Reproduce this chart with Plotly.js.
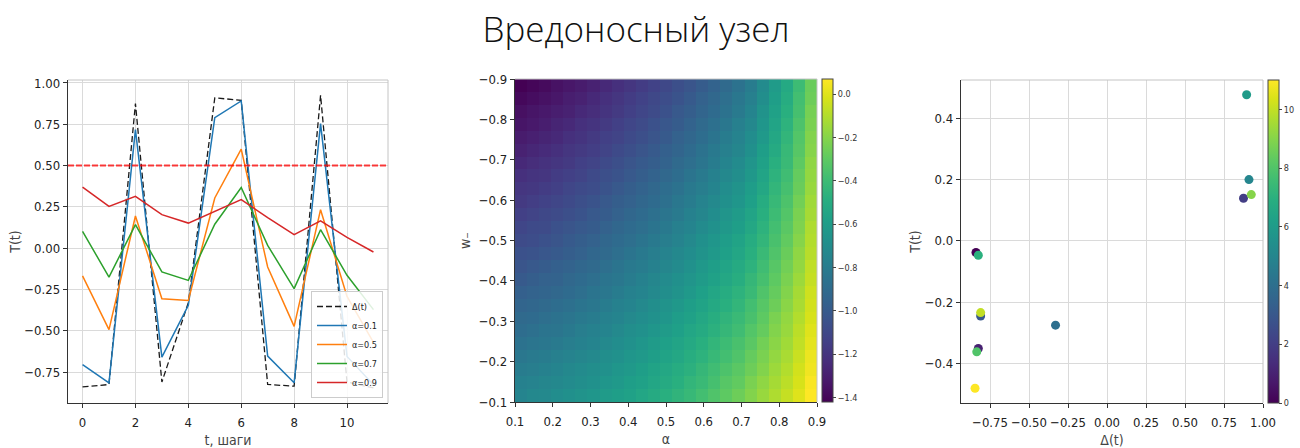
<!DOCTYPE html>
<html><head><meta charset="utf-8">
<script src="https://cdn.plot.ly/plotly-3.0.1.min.js"></script>
<style>html,body{margin:0;padding:0;background:#fff;} #chart{width:1300px;height:448px;}</style>
</head><body><div id="chart"></div>
<script>
// ---------- data ----------
const steps = [0, 1, 2, 3, 4, 5, 6, 7, 8, 9, 10, 11];
const delta = [-0.84, -0.825, 0.875, -0.81, -0.33, 0.91, 0.895, -0.825, -0.835, 0.925, -0.81, -0.846];
const trustA01 = [-0.705, -0.815, 0.718, -0.659, -0.346, 0.79, 0.891, -0.653, -0.815, 0.754, -0.655, -0.827];
const trustA05 = [-0.168, -0.493, 0.195, -0.306, -0.316, 0.304, 0.60, -0.114, -0.473, 0.233, -0.292, -0.57];
const trustA07 = [0.102, -0.175, 0.143, -0.144, -0.195, 0.145, 0.367, 0.017, -0.245, 0.112, -0.164, -0.372];
const trustA09 = [0.37, 0.253, 0.314, 0.203, 0.152, 0.225, 0.294, 0.185, 0.082, 0.165, 0.065, -0.023];
const lineLabels = ['α=0.1', 'α=0.5', 'α=0.7', 'α=0.9'];
const threshold = 0.5;
const scatterTrust = [-0.038, -0.351, 0.139, -0.245, -0.275, 0.20, 0.477, -0.047, -0.362, 0.151, -0.234, -0.481];

const alphaGrid = [0.116, 0.148, 0.18, 0.212, 0.244, 0.276, 0.308, 0.34, 0.372, 0.404, 0.436, 0.468, 0.5,
                   0.532, 0.564, 0.596, 0.628, 0.66, 0.692, 0.724, 0.756, 0.788, 0.82, 0.852, 0.884];
const wGrid = [-0.884, -0.852, -0.82, -0.788, -0.756, -0.724, -0.692, -0.66, -0.628, -0.596, -0.564, -0.532, -0.5,
               -0.468, -0.436, -0.404, -0.372, -0.34, -0.308, -0.276, -0.244, -0.212, -0.18, -0.148, -0.116];
// one row per alpha column (top w = -0.9 first)
const heatByAlpha = [
[-1.42,-1.39,-1.36,-1.34,-1.31,-1.28,-1.25,-1.22,-1.19,-1.17,-1.14,-1.11,-1.08,-1.05,-1.03,-1.00,-0.97,-0.94,-0.91,-0.89,-0.86,-0.83,-0.80,-0.77,-0.75],
[-1.40,-1.37,-1.34,-1.32,-1.29,-1.26,-1.23,-1.20,-1.18,-1.15,-1.12,-1.09,-1.07,-1.04,-1.01,-0.98,-0.95,-0.93,-0.90,-0.87,-0.84,-0.81,-0.79,-0.76,-0.73],
[-1.38,-1.35,-1.32,-1.30,-1.27,-1.24,-1.21,-1.19,-1.16,-1.13,-1.10,-1.08,-1.05,-1.02,-0.99,-0.96,-0.94,-0.91,-0.88,-0.85,-0.83,-0.80,-0.77,-0.74,-0.72],
[-1.35,-1.33,-1.30,-1.27,-1.25,-1.22,-1.19,-1.16,-1.14,-1.11,-1.08,-1.05,-1.03,-1.00,-0.97,-0.95,-0.92,-0.89,-0.86,-0.84,-0.81,-0.78,-0.75,-0.73,-0.70],
[-1.33,-1.30,-1.28,-1.25,-1.22,-1.19,-1.17,-1.14,-1.11,-1.09,-1.06,-1.03,-1.00,-0.98,-0.95,-0.92,-0.90,-0.87,-0.84,-0.82,-0.79,-0.76,-0.73,-0.71,-0.68],
[-1.31,-1.28,-1.25,-1.22,-1.20,-1.17,-1.14,-1.12,-1.09,-1.06,-1.04,-1.01,-0.98,-0.96,-0.93,-0.90,-0.88,-0.85,-0.82,-0.79,-0.77,-0.74,-0.71,-0.69,-0.66],
[-1.28,-1.25,-1.23,-1.20,-1.17,-1.15,-1.12,-1.09,-1.07,-1.04,-1.01,-0.99,-0.96,-0.93,-0.91,-0.88,-0.85,-0.83,-0.80,-0.77,-0.75,-0.72,-0.69,-0.67,-0.64],
[-1.25,-1.22,-1.20,-1.17,-1.14,-1.12,-1.09,-1.06,-1.04,-1.01,-0.99,-0.96,-0.93,-0.91,-0.88,-0.85,-0.83,-0.80,-0.77,-0.75,-0.72,-0.69,-0.67,-0.64,-0.61],
[-1.22,-1.19,-1.17,-1.14,-1.12,-1.09,-1.06,-1.04,-1.01,-0.98,-0.96,-0.93,-0.90,-0.88,-0.85,-0.83,-0.80,-0.77,-0.75,-0.72,-0.70,-0.67,-0.64,-0.62,-0.59],
[-1.19,-1.16,-1.14,-1.11,-1.09,-1.06,-1.03,-1.01,-0.98,-0.96,-0.93,-0.90,-0.88,-0.85,-0.82,-0.80,-0.77,-0.75,-0.72,-0.69,-0.67,-0.64,-0.62,-0.59,-0.57],
[-1.16,-1.13,-1.11,-1.08,-1.06,-1.03,-1.00,-0.98,-0.95,-0.93,-0.90,-0.88,-0.85,-0.82,-0.80,-0.77,-0.75,-0.72,-0.70,-0.67,-0.64,-0.62,-0.59,-0.57,-0.54],
[-1.13,-1.10,-1.08,-1.05,-1.03,-1.00,-0.98,-0.95,-0.92,-0.90,-0.87,-0.85,-0.82,-0.79,-0.77,-0.74,-0.72,-0.69,-0.67,-0.64,-0.61,-0.59,-0.56,-0.54,-0.51],
[-1.10,-1.07,-1.05,-1.02,-1.00,-0.97,-0.95,-0.92,-0.89,-0.87,-0.84,-0.82,-0.79,-0.76,-0.74,-0.71,-0.69,-0.66,-0.64,-0.61,-0.58,-0.56,-0.53,-0.51,-0.48],
[-1.06,-1.04,-1.01,-0.99,-0.96,-0.94,-0.91,-0.89,-0.86,-0.83,-0.81,-0.78,-0.76,-0.73,-0.71,-0.68,-0.66,-0.63,-0.60,-0.58,-0.55,-0.53,-0.50,-0.48,-0.45],
[-1.03,-1.00,-0.98,-0.95,-0.93,-0.90,-0.88,-0.85,-0.82,-0.80,-0.77,-0.75,-0.72,-0.70,-0.67,-0.65,-0.62,-0.59,-0.57,-0.54,-0.52,-0.49,-0.47,-0.44,-0.42],
[-0.99,-0.96,-0.94,-0.91,-0.89,-0.86,-0.84,-0.81,-0.79,-0.76,-0.74,-0.71,-0.68,-0.66,-0.63,-0.61,-0.58,-0.56,-0.53,-0.51,-0.48,-0.46,-0.43,-0.41,-0.38],
[-0.95,-0.92,-0.90,-0.87,-0.85,-0.82,-0.80,-0.77,-0.75,-0.72,-0.70,-0.67,-0.64,-0.62,-0.59,-0.57,-0.54,-0.52,-0.49,-0.47,-0.44,-0.42,-0.39,-0.37,-0.34],
[-0.91,-0.88,-0.86,-0.83,-0.80,-0.78,-0.75,-0.73,-0.70,-0.68,-0.65,-0.63,-0.60,-0.58,-0.55,-0.53,-0.50,-0.48,-0.45,-0.43,-0.40,-0.38,-0.35,-0.32,-0.30],
[-0.86,-0.83,-0.81,-0.78,-0.76,-0.74,-0.71,-0.69,-0.66,-0.64,-0.61,-0.59,-0.56,-0.54,-0.51,-0.49,-0.46,-0.44,-0.41,-0.39,-0.36,-0.34,-0.31,-0.29,-0.26],
[-0.80,-0.78,-0.75,-0.73,-0.70,-0.68,-0.65,-0.63,-0.60,-0.58,-0.55,-0.53,-0.50,-0.48,-0.46,-0.43,-0.41,-0.38,-0.36,-0.33,-0.31,-0.28,-0.26,-0.23,-0.21],
[-0.71,-0.69,-0.66,-0.64,-0.62,-0.59,-0.57,-0.55,-0.53,-0.50,-0.48,-0.46,-0.44,-0.41,-0.39,-0.37,-0.34,-0.32,-0.30,-0.28,-0.25,-0.23,-0.21,-0.18,-0.16],
[-0.61,-0.59,-0.57,-0.55,-0.53,-0.51,-0.48,-0.46,-0.44,-0.42,-0.40,-0.38,-0.36,-0.34,-0.32,-0.30,-0.28,-0.26,-0.23,-0.21,-0.19,-0.17,-0.15,-0.13,-0.11],
[-0.52,-0.50,-0.48,-0.46,-0.44,-0.42,-0.41,-0.39,-0.37,-0.35,-0.33,-0.31,-0.29,-0.27,-0.25,-0.23,-0.21,-0.19,-0.17,-0.16,-0.14,-0.12,-0.10,-0.08,-0.06],
[-0.40,-0.38,-0.37,-0.35,-0.33,-0.32,-0.30,-0.28,-0.27,-0.25,-0.23,-0.22,-0.20,-0.18,-0.17,-0.15,-0.13,-0.12,-0.10,-0.08,-0.07,-0.05,-0.03,-0.02,0.00],
[-0.27,-0.26,-0.24,-0.23,-0.21,-0.20,-0.18,-0.17,-0.16,-0.14,-0.13,-0.11,-0.10,-0.09,-0.07,-0.06,-0.04,-0.03,-0.02,0.00,0.01,0.03,0.04,0.06,0.07]
];

// ---------- styling ----------
const FONT = '"DejaVu Sans Condensed", "Liberation Sans Narrow", "Liberation Sans", sans-serif';
const W = 1300, H = 448;
const px = (a, b) => [a / W, b / W];
const py = (top, bottom) => [1 - bottom / H, 1 - top / H];

const axisBase = {
  showgrid: true, gridcolor: '#dadada', gridwidth: 1, zeroline: false,
  showline: true, linecolor: '#333', linewidth: 1.3, mirror: false,
  ticks: 'outside', ticklen: 4, tickwidth: 1, tickcolor: '#333',
  tickfont: {family: FONT, size: 13, color: '#222'},
  title: {font: {family: FONT, size: 14, color: '#444'}}
};
function ax(extra) {
  const o = JSON.parse(JSON.stringify(axisBase));
  Object.keys(extra).forEach(k => {
    if (k === 'title') o.title = Object.assign(o.title, extra.title);
    else o[k] = extra[k];
  });
  return o;
}

const traces = [
  {x: steps, y: delta, name: 'Δ(t)', mode: 'lines', xaxis: 'x', yaxis: 'y',
   line: {color: '#1a1a1a', width: 1.3, dash: '6px,3px'}},
  {x: steps, y: trustA01, name: lineLabels[0], mode: 'lines', xaxis: 'x', yaxis: 'y', line: {color: '#1f77b4', width: 1.5}},
  {x: steps, y: trustA05, name: lineLabels[1], mode: 'lines', xaxis: 'x', yaxis: 'y', line: {color: '#ff7f0e', width: 1.5}},
  {x: steps, y: trustA07, name: lineLabels[2], mode: 'lines', xaxis: 'x', yaxis: 'y', line: {color: '#2ca02c', width: 1.5}},
  {x: steps, y: trustA09, name: lineLabels[3], mode: 'lines', xaxis: 'x', yaxis: 'y', line: {color: '#d62728', width: 1.5}},
  {type: 'heatmap', x: alphaGrid, y: wGrid, z: heatByAlpha, transpose: true,
   colorscale: 'Viridis', xaxis: 'x2', yaxis: 'y2', showlegend: false, showscale: true,
   colorbar: {x: 822 / W, xanchor: 'left', xpad: 0, y: 1 - 402 / H, yanchor: 'bottom', ypad: 0,
              len: 323 / H, lenmode: 'fraction', thickness: 11, thicknessmode: 'pixels',
              outlinewidth: 1, outlinecolor: '#444', ticks: 'outside', ticklen: 3, tickcolor: '#444',
              dtick: 0.2, tick0: 0, tickformat: '.1f', tickfont: {family: FONT, size: 9, color: '#333'}}},
  {x: delta, y: scatterTrust, mode: 'markers', xaxis: 'x3', yaxis: 'y3', showlegend: false,
   marker: {size: 9, color: steps, colorscale: 'Viridis', cmin: 0, cmax: 11, line: {width: 0},
            colorbar: {x: 1268 / W, xanchor: 'left', xpad: 0, y: 1 - 403 / H, yanchor: 'bottom', ypad: 0,
                       len: 323 / H, lenmode: 'fraction', thickness: 11, thicknessmode: 'pixels',
                       outlinewidth: 1, outlinecolor: '#444', ticks: 'outside', ticklen: 3, tickcolor: '#444',
                       dtick: 2, tick0: 0, tickfont: {family: FONT, size: 9, color: '#333'}}}}
];

function frame(xr, yr) {
  return [
    {type: 'line', xref: xr + ' domain', yref: yr + ' domain', x0: 0, x1: 1, y0: 1, y1: 1, line: {color: '#c4c4c4', width: 1}},
    {type: 'line', xref: xr + ' domain', yref: yr + ' domain', x0: 1, x1: 1, y0: 0, y1: 1, line: {color: '#c4c4c4', width: 1}}
  ];
}

const layout = {
  width: W, height: H, margin: {l: 0, r: 0, t: 0, b: 0},
  paper_bgcolor: '#fff', plot_bgcolor: '#fff',
  font: {family: FONT, color: '#222'},
  title: {text: 'Вредоносный узел', x: 636 / W, xanchor: 'center', xref: 'paper',
          y: 1 - 30 / H, yanchor: 'middle', yref: 'paper',
          font: {family: '"Open Sans", "Noto Sans", sans-serif', size: 35, color: '#111', weight: 300}},
  showlegend: true,
  legend: {x: 383 / W, xanchor: 'right', y: 1 - 398 / H, yanchor: 'bottom',
           bgcolor: 'rgba(255,255,255,0.85)', bordercolor: '#cccccc', borderwidth: 1,
           font: {family: FONT, size: 9, color: '#222'}, itemwidth: 30, tracegroupgap: 0},
  xaxis: ax({domain: px(68, 388), anchor: 'y', range: [-0.55, 11.55], dtick: 2, tick0: 0, ticklabelstandoff: 3,
             title: {text: 't, шаги', standoff: 8}}),
  yaxis: ax({domain: py(80, 403), anchor: 'x', range: [-0.937, 1.018], dtick: 0.25, tick0: 0, tickformat: '.2f',
             title: {text: 'T(t)', standoff: 0}}),
  xaxis2: ax({domain: px(515, 817), anchor: 'y2', range: [0.1, 0.9], dtick: 0.1, tick0: 0.1, tickformat: '.1f',
              showgrid: false, ticklabelstandoff: 3, title: {text: 'α', standoff: 6}}),
  yaxis2: ax({domain: py(79, 402), anchor: 'x2', range: [-0.1, -0.9], dtick: 0.1, tick0: -0.1, tickformat: '.1f',
              showgrid: false, title: {text: 'w₋', standoff: 4}}),
  xaxis3: ax({domain: px(961, 1263), anchor: 'y3', range: [-0.936, 1.0], dtick: 0.25, tick0: 0, tickformat: '.2f',
              ticklabelstandoff: 3, title: {text: 'Δ(t)', standoff: 7}}),
  yaxis3: ax({domain: py(80, 403), anchor: 'x3', range: [-0.529, 0.525], dtick: 0.2, tick0: 0, tickformat: '.1f',
              title: {text: 'T(t)', standoff: 0}}),
  shapes: [].concat(
    frame('x', 'y'), frame('x2', 'y2'), frame('x3', 'y3'),
    [{type: 'line', xref: 'x domain', yref: 'y', x0: 0, x1: 1, y0: threshold, y1: threshold,
      line: {color: 'rgba(255,0,0,0.75)', width: 2, dash: '6px,2px'}}]
  )
};

Plotly.newPlot('chart', traces, layout, {staticPlot: true, displayModeBar: false});
</script></body></html>
